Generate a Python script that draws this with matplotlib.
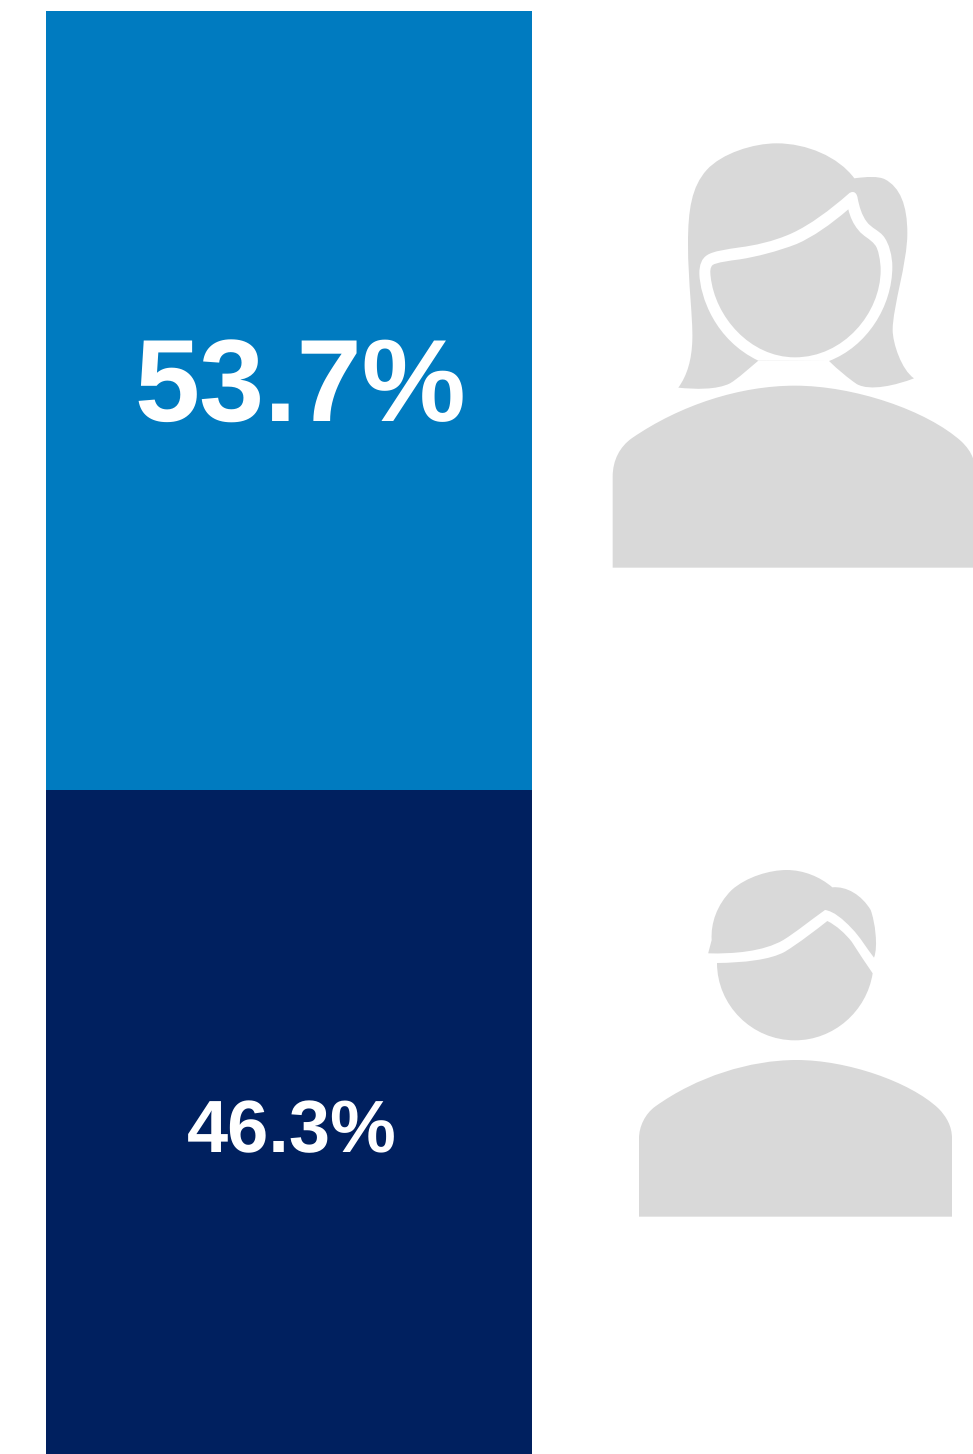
import matplotlib
matplotlib.use("Agg")
import matplotlib.pyplot as plt
from matplotlib.path import Path
from matplotlib.patches import PathPatch

plt.rcParams['font.family'] = ['Liberation Sans', 'DejaVu Sans']
plt.rcParams['text.hinting'] = 'no_hinting'
plt.rcParams['text.hinting_factor'] = 1
plt.rcParams['path.simplify'] = False

# ---- data ----
groups = ['Women', 'Men']
shares = [53.7, 46.3]
bar_colors = ['#007BC0', '#00205F']
label_sizes = [84, 53.5]
label_offsets_px = [(11, -9), (2.5, 7.5)]

ICON = '#D9D9D9'
W, H = 973, 1454
fig = plt.figure(figsize=(W / 100, H / 100), dpi=100, facecolor='white')

# bar axes: runs slightly past the bottom of the canvas, as in the reference crop
top_px, bottom_px, left_px, right_px = 11, 1461.6, 46, 532
ax = fig.add_axes([left_px / W, 1 - bottom_px / H, (right_px - left_px) / W, (bottom_px - top_px) / H])
ax.set_xlim(-0.5, 0.5)
ax.set_ylim(0, sum(shares))
ax.axis('off')

base = sum(shares)
for g, v, c, fs, off in zip(groups, shares, bar_colors, label_sizes, label_offsets_px):
    base -= v
    ax.bar(0, v, bottom=base, width=1, color=c, linewidth=0, label=g)
    ax.annotate(f'{v}%', xy=(0, base + v / 2), xytext=(off[0] * 0.72, -off[1] * 0.72),
                textcoords='offset points', ha='center', va='center',
                color='white', fontweight='bold', fontsize=fs)

# icon layer in pixel coordinates
ov = fig.add_axes([0, 0, 1, 1], zorder=5)
ov.set_xlim(0, W)
ov.set_ylim(H, 0)
ov.axis('off')
ov.patch.set_alpha(0)


def outline(spec, ox, oy, s=3.0):
    """spec: start point, then 1 point (line) or 3 points (cubic) per step, in 3x-crop coordinates."""
    P = lambda p: (ox + p[0] / s, oy + p[1] / s)
    verts, codes = [P(spec[0])], [Path.MOVETO]
    for step in spec[1:]:
        if len(step) == 1:
            verts.append(P(step[0]))
            codes.append(Path.LINETO)
        else:
            verts += [P(p) for p in step]
            codes += [Path.CURVE4] * 3
    verts.append(verts[0])
    codes.append(Path.CLOSEPOLY)
    return Path(verts, codes)


def draw(spec, ox, oy, color=ICON):
    ov.add_patch(PathPatch(outline(spec, ox, oy), facecolor=color, edgecolor='none', lw=0))


# --- woman icon (crop origin 600,130) ---
wx, wy = 600, 130
woman_hair = [
    (235, 773),
    [(262, 735), (275, 690), (277, 630)],
    [(279, 560), (264, 460), (264, 340)],
    [(264, 240), (275, 170), (320, 120)],
    [(365, 70), (460, 40), (530, 40)],
    [(620, 40), (715, 80), (763, 145)],
    [(800, 140), (835, 138), (855, 148)],
    [(900, 172), (922, 225), (922, 310)],
    [(922, 400), (878, 530), (878, 600)],
    [(878, 640), (905, 720), (942, 745)],
    [(890, 765), (810, 785), (770, 762)],
    [(745, 745), (715, 720), (687, 693)],
    [(475, 692)],
    [(445, 717), (415, 745), (390, 760)],
    [(350, 780), (285, 778), (235, 773)],
]
woman_outline = [
    (745, 192),
    [(690, 240), (630, 285), (575, 310)],
    [(520, 335), (460, 347), (420, 352)],
    [(380, 358), (340, 363), (322, 375)],
    [(305, 385), (298, 405), (298, 430)],
    [(300, 500), (345, 630), (475, 692)],
    [(687, 693)],
    [(800, 650), (877, 530), (877, 410)],
    [(877, 380), (868, 340), (850, 318)],
    [(835, 300), (815, 295), (800, 275)],
    [(785, 255), (778, 230), (773, 205)],
    [(770, 183), (755, 182), (745, 192)],
]
woman_face = [
    (745, 238),
    [(690, 285), (640, 320), (590, 342)],
    [(530, 365), (470, 380), (420, 388)],
    [(390, 392), (350, 397), (338, 405)],
    [(330, 412), (330, 425), (332, 440)],
    [(345, 560), (450, 682), (585, 682)],
    [(730, 682), (842, 550), (842, 420)],
    [(842, 395), (835, 355), (825, 345)],
    [(810, 325), (790, 320), (775, 300)],
    [(760, 283), (750, 260), (745, 238)],
]
woman_body = [
    (38, 1313),
    [(38, 1040)],
    [(38, 990), (60, 950), (95, 925)],
    [(240, 825), (420, 767), (585, 767)],
    [(760, 767), (980, 840), (1085, 935)],
    [(1100, 950), (1112, 965), (1119, 985)],
    [(1119, 1313)],
]
draw(woman_hair, wx, wy)
draw(woman_outline, wx, wy, 'white')
draw(woman_face, wx, wy)
draw(woman_body, wx, wy)

# --- man icon (crop origin 620,860) ---
mx, my = 620, 860
man_hair = [
    (265, 278),
    [(275, 240)],
    [(272, 190), (290, 135), (335, 90)],
    [(380, 50), (450, 30), (500, 30)],
    [(550, 30), (600, 50), (637, 82)],
    [(680, 78), (725, 105), (752, 150)],
    [(765, 185), (775, 260), (762, 293)],
    [(740, 265), (720, 230), (695, 205)],
    [(670, 178), (640, 153), (615, 150)],
    [(570, 182), (530, 215), (490, 240)],
    [(430, 275), (340, 282), (265, 280)],
]
man_face = [
    (291, 309),
    [(370, 308), (450, 300), (495, 275)],
    [(540, 247), (585, 212), (622, 183)],
    [(650, 197), (675, 220), (695, 245)],
    [(715, 275), (738, 312), (758, 340)],
    [(740, 455), (640, 541), (525, 541)],
    [(395, 541), (291, 435), (291, 309)],
]
man_body = [
    (57, 1070),
    [(57, 835)],
    [(57, 800), (75, 762), (105, 740)],
    [(230, 650), (390, 600), (530, 600)],
    [(680, 600), (870, 665), (955, 745)],
    [(980, 770), (996, 800), (996, 835)],
    [(996, 1070)],
]
draw(man_hair, mx, my)
draw(man_face, mx, my)
draw(man_body, mx, my)

fig.savefig('out.png', dpi=100, facecolor='white')
